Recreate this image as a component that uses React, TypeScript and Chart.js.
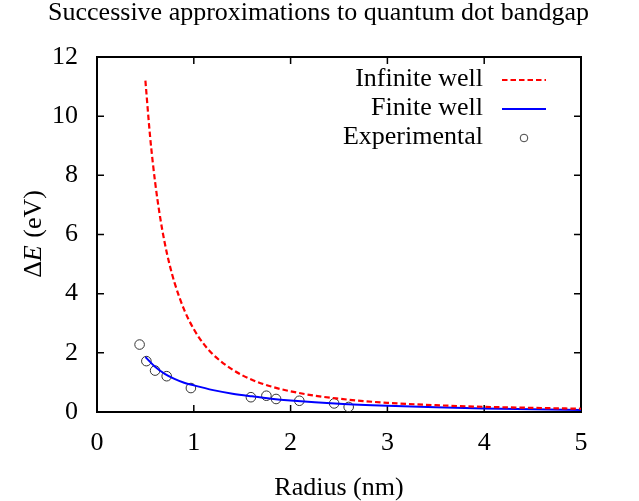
import React, { useEffect, useRef } from "react";
import { Chart, registerables } from "chart.js";

Chart.register(...registerables);

const TITLE = "Successive approximations to quantum dot bandgap";
const X_LABEL = "Radius (nm)";
const Y_LABEL_PREFIX = "\u0394";
const Y_LABEL_VAR = "E";
const Y_LABEL_SUFFIX = " (eV)";

const X_TICKS = [0, 1, 2, 3, 4, 5];
const Y_TICKS = [0, 2, 4, 6, 8, 10, 12];

const LEGEND_LABELS = ["Infinite well", "Finite well", "Experimental"];

const infiniteRadius = [0.5, 0.55, 0.6, 0.65, 0.7, 0.75, 0.8, 0.9, 1.0, 1.1, 1.2, 1.4, 1.6, 1.8, 2.0, 2.25, 2.5, 2.75, 3.0, 3.5, 4.0, 4.5, 5.0];
const infiniteEnergy = [11.2, 9.26, 7.78, 6.63, 5.71, 4.98, 4.38, 3.46, 2.8, 2.31, 1.94, 1.43, 1.09, 0.86, 0.7, 0.55, 0.45, 0.37, 0.31, 0.23, 0.175, 0.14, 0.11];

const finiteRadius = [0.5, 0.6, 0.7, 0.8, 0.9, 1.0, 1.2, 1.4, 1.6, 1.8, 2.0, 2.5, 3.0, 3.5, 4.0, 4.5, 5.0];
const finiteEnergy = [1.86, 1.53, 1.29, 1.12, 0.99, 0.9, 0.74, 0.62, 0.53, 0.45, 0.39, 0.28, 0.21, 0.16, 0.12, 0.09, 0.07];

const expRadius = [0.44, 0.51, 0.6, 0.72, 0.97, 1.59, 1.75, 1.85, 2.09, 2.45, 2.6];
const expEnergy = [2.28, 1.72, 1.4, 1.21, 0.81, 0.5, 0.55, 0.44, 0.38, 0.29, 0.17];

const FONT = "'Liberation Serif', 'Times New Roman', serif";
const FS = 26;

const toPoints = (xs: number[], ys: number[]) => xs.map((x, i) => ({ x, y: ys[i] }));

const decorPlugin = {
  id: "decor",
  beforeDatasetsDraw(chart: any) {
    const { ctx, chartArea: a, scales } = chart;
    ctx.save();
    ctx.strokeStyle = "#000";
    ctx.lineWidth = 1.5;
    const tl = 7;
    ctx.beginPath();
    X_TICKS.forEach((v) => {
      const px = scales.x.getPixelForValue(v);
      ctx.moveTo(px, a.bottom);
      ctx.lineTo(px, a.bottom - tl);
      ctx.moveTo(px, a.top);
      ctx.lineTo(px, a.top + tl);
    });
    Y_TICKS.forEach((v) => {
      const py = scales.y.getPixelForValue(v);
      ctx.moveTo(a.left, py);
      ctx.lineTo(a.left + tl, py);
      ctx.moveTo(a.right, py);
      ctx.lineTo(a.right - tl, py);
    });
    ctx.stroke();
    ctx.lineWidth = 2;
    ctx.strokeRect(a.left, a.top, a.right - a.left, a.bottom - a.top);
    ctx.restore();
  },
  afterDraw(chart: any) {
    const { ctx, chartArea: a } = chart;
    ctx.save();
    ctx.fillStyle = "#000";
    ctx.font = `${FS}px ${FONT}`;
    ctx.textBaseline = "alphabetic";
    // title
    ctx.textAlign = "center";
    ctx.fillText(TITLE, chart.width / 2 - 1, 20);
    // x label
    ctx.fillText(X_LABEL, (a.left + a.right) / 2, 495);
    // y label (rotated)
    ctx.save();
    ctx.translate(41, (a.top + a.bottom) / 2);
    ctx.rotate(-Math.PI / 2);
    const w1 = ctx.measureText(Y_LABEL_PREFIX).width;
    ctx.font = `italic ${FS}px ${FONT}`;
    const w2 = ctx.measureText(Y_LABEL_VAR).width;
    ctx.font = `${FS}px ${FONT}`;
    const w3 = ctx.measureText(Y_LABEL_SUFFIX).width;
    const total = w1 + w2 + w3;
    ctx.textAlign = "left";
    let x0 = -total / 2;
    ctx.fillText(Y_LABEL_PREFIX, x0, 0);
    x0 += w1;
    ctx.font = `italic ${FS}px ${FONT}`;
    ctx.fillText(Y_LABEL_VAR, x0, 0);
    x0 += w2 + 1;
    ctx.font = `${FS}px ${FONT}`;
    ctx.fillText(Y_LABEL_SUFFIX, x0, 0);
    ctx.restore();
    // legend
    const textRight = 483;
    const lineL = 502;
    const lineR = 546;
    const rows = [80, 109, 138];
    ctx.textAlign = "right";
    ctx.textBaseline = "middle";
    LEGEND_LABELS.forEach((lab, i) => {
      ctx.fillText(lab, textRight, rows[i] - 1);
    });
    ctx.lineWidth = 2;
    ctx.strokeStyle = "#ff0000";
    ctx.setLineDash([5.5, 3]);
    ctx.beginPath();
    ctx.moveTo(lineL, rows[0]);
    ctx.lineTo(lineR, rows[0]);
    ctx.stroke();
    ctx.setLineDash([]);
    ctx.strokeStyle = "#0000ff";
    ctx.beginPath();
    ctx.moveTo(lineL, rows[1]);
    ctx.lineTo(lineR, rows[1]);
    ctx.stroke();
    ctx.strokeStyle = "#444";
    ctx.lineWidth = 1;
    ctx.beginPath();
    ctx.arc((lineL + lineR) / 2, rows[2], 3.8, 0, Math.PI * 2);
    ctx.stroke();
    ctx.restore();
  },
};

export default function App() {
  const ref = useRef<HTMLCanvasElement>(null);
  useEffect(() => {
    document.body.style.margin = "0";
    const canvas = ref.current!;
    const chart = new Chart(canvas, {
      type: "scatter",
      data: {
        datasets: [
          {
            label: LEGEND_LABELS[0],
            data: toPoints(infiniteRadius, infiniteEnergy),
            showLine: true,
            borderColor: "#ff0000",
            borderWidth: 2.2,
            borderDash: [5.5, 3],
            pointRadius: 0,
            cubicInterpolationMode: "monotone",
          },
          {
            label: LEGEND_LABELS[1],
            data: toPoints(finiteRadius, finiteEnergy),
            showLine: true,
            borderColor: "#0000ff",
            borderWidth: 2,
            pointRadius: 0,
            cubicInterpolationMode: "monotone",
          },
          {
            label: LEGEND_LABELS[2],
            data: toPoints(expRadius, expEnergy),
            showLine: false,
            pointRadius: 4.8,
            pointBorderWidth: 1,
            pointBorderColor: "#333",
            pointBackgroundColor: "rgba(0,0,0,0)",
          },
        ],
      },
      options: {
        animation: false,
        responsive: false,
        layout: { padding: { top: 57, right: 58, left: 0, bottom: 0 } },
        plugins: { legend: { display: false }, title: { display: false }, tooltip: { enabled: false } },
        scales: {
          x: {
            type: "linear",
            min: 0,
            max: 5,
            afterFit: (s: any) => {
              s.height = 89;
            },
            afterBuildTicks: (s: any) => {
              s.ticks = X_TICKS.map((v) => ({ value: v }));
            },
            grid: { display: false, drawTicks: false },
            border: { display: false },
            ticks: { padding: 16, color: "#000", font: { family: FONT, size: FS }, maxRotation: 0 },
          },
          y: {
            type: "linear",
            min: 0,
            max: 12,
            afterFit: (s: any) => {
              s.width = 97;
            },
            afterBuildTicks: (s: any) => {
              s.ticks = Y_TICKS.map((v) => ({ value: v }));
            },
            grid: { display: false, drawTicks: false },
            border: { display: false },
            ticks: { padding: 19, color: "#000", font: { family: FONT, size: FS } },
          },
        },
      },
      plugins: [decorPlugin],
    });
    return () => chart.destroy();
  }, []);
  return <canvas ref={ref} width={639} height={501} style={{ display: "block" }} />;
}
